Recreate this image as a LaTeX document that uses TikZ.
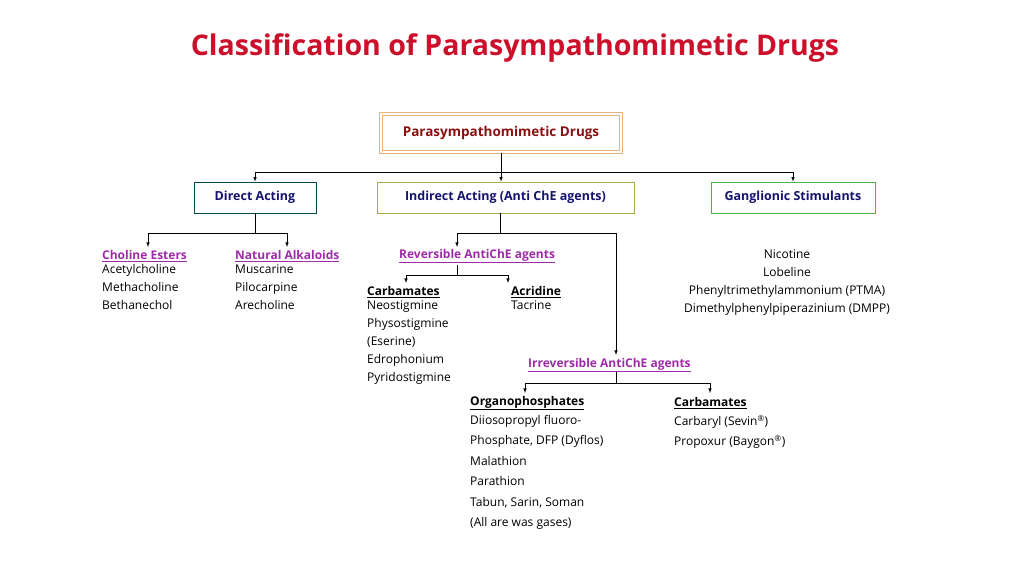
\documentclass[tikz,border=0pt]{standalone}
\usepackage{fontspec}
\setmainfont{Open Sans}
\usetikzlibrary{positioning}
\definecolor{titlered}{HTML}{CC0F2A}
\definecolor{topred}{HTML}{8B1010}
\definecolor{boxblue}{HTML}{141470}
\definecolor{headpink}{HTML}{9E2AA8}
\tikzset{
  catbox/.style={draw=#1, line width=0.8pt, fill=white, minimum height=31pt, inner xsep=8pt,
    text=boxblue, font=\fontsize{12.5}{14}\selectfont\bfseries},
  head/.style={text=headpink, anchor=west, font=\fontsize{12}{14}\selectfont\bfseries, inner sep=0pt},
  subhead/.style={anchor=west, font=\fontsize{12}{14}\selectfont\bfseries, inner sep=0pt},
  druglist/.style={align=left, anchor=north west, inner sep=0pt, font=\fontsize{12}{18.2}\selectfont},
  link/.style={line width=0.6pt},
  arrow/.style={link, -latex}
}
\begin{document}
\begin{tikzpicture}[x=1pt,y=-1pt]
\useasboundingbox (0,0) rectangle (1024,576);

\node[text=titlered, font=\fontsize{28.5}{32}\selectfont\bfseries] (title) at (515,48) {Classification of Parasympathomimetic Drugs};

% top and category boxes
\node[draw=orange!40!brown!60, double=white, double distance=1.5pt, line width=1pt, fill=white,
  minimum width=240pt, minimum height=38pt, text=topred, font=\fontsize{13.5}{15}\selectfont\bfseries] (top) at (501,133) {Parasympathomimetic Drugs};
\node[catbox={teal!60!black}, minimum width=122pt] (direct) at (255,197.5) {Direct Acting};
\node[catbox={olive!40!lime!60!gray}, minimum width=257pt] (indirect) at (505.5,197.5) {Indirect Acting (Anti ChE agents)};
\node[catbox={green!40!gray}, minimum width=164pt] (gang) at (793,197.5) {Ganglionic Stimulants};

\coordinate (j0) at (501,172);
\draw[link] (top.south) -- (j0);
\draw[arrow] (j0) -| (direct.north);
\draw[arrow] (j0) -- (indirect.north -| j0);
\draw[arrow] (j0) -| (gang.north);

% direct acting
\node[head] (choline) at (102,256) {\underline{Choline Esters}};
\node[head] (natural) at (235,256) {\underline{Natural Alkaloids}};
\coordinate (j1) at (255,233);
\draw[link] (direct.south) -- (j1);
\draw[arrow] (j1) -| (148,247);
\draw[arrow] (j1) -| (287,247);
\node[druglist] (cholinelist) at (102,264) {Acetylcholine\\Methacholine\\Bethanechol};
\node[druglist] (naturallist) at (235,264) {Muscarine\\Pilocarpine\\Arecholine};

% indirect acting
\node[head] (rev) at (399,256) {\underline{Reversible AntiChE agents}};
\node[head] (irrev) at (528,365) {\underline{Irreversible AntiChE agents}};
\coordinate (j2) at (500,233);
\draw[link] (indirect.south -| j2) -- (j2);
\draw[arrow] (j2) -| (457,247);
\draw[arrow] (j2) -| (616,355);

\node[subhead] (carb) at (367,292) {\underline{Carbamates}};
\node[subhead] (acri) at (511,292) {\underline{Acridine}};
\coordinate (j3) at (457,275);
\draw[link] (457,265) -- (j3);
\draw[arrow] (j3) -| (406,283);
\draw[arrow] (j3) -| (508,283);
\node[druglist] (carblist) at (367,300) {Neostigmine\\Physostigmine\\(Eserine)\\Edrophonium\\Pyridostigmine};
\node[druglist] (acrilist) at (511,300) {Tacrine};

\node[subhead] (organo) at (470,403) {\underline{Organophosphates}};
\node[subhead] (carb2) at (674,403) {\underline{Carbamates}};
\coordinate (j4) at (616,383);
\draw[link] (irrev.south -| j4) -- (j4);
\draw[arrow] (j4) -| (525,393);
\draw[arrow] (j4) -| (710,393);
\node[druglist, font=\fontsize{12}{20.5}\selectfont] (organolist) at (470,415) {Diiosopropyl fluoro-\\Phosphate, DFP (Dyflos)\\Malathion\\Parathion\\Tabun, Sarin, Soman\\(All are was gases)};
\node[druglist, font=\fontsize{12}{20.5}\selectfont] (carb2list) at (674,415) {Carbaryl (Sevin\textsuperscript{\textregistered})\\Propoxur (Baygon\textsuperscript{\textregistered})};

% ganglionic stimulants
\node[druglist, align=center, anchor=north] (ganglist) at (787,249) {Nicotine\\Lobeline\\Phenyltrimethylammonium (PTMA)\\Dimethylphenylpiperazinium (DMPP)};
\end{tikzpicture}
\end{document}
